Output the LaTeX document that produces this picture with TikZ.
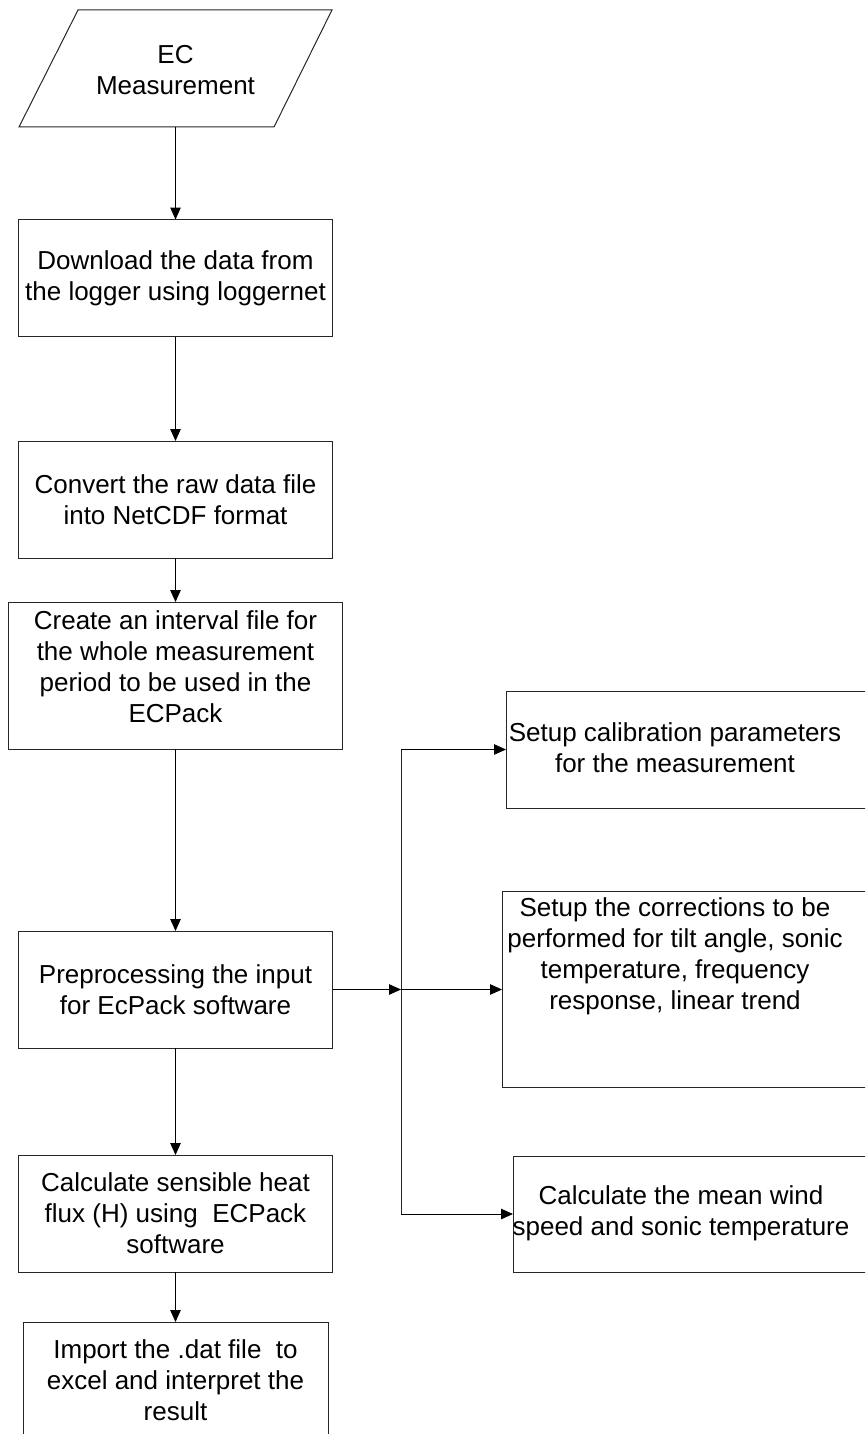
\documentclass[tikz,border=0pt]{standalone}
\usepackage{fontspec}
\setmainfont{Liberation Sans}
\usetikzlibrary{arrows.meta}
\begin{document}
\begin{tikzpicture}[x=1pt,y=-1pt,
  every node/.style={font=\fontsize{26pt}{31pt}\selectfont, align=center, inner sep=0pt, outer sep=0pt},
  stepbox/.style={draw=black!85, line width=1pt, rectangle},
  flow/.style={draw=black, line width=1pt, -{Triangle[length=12pt,width=10.5pt]}},
  wire/.style={draw=black!85, line width=1pt}]
\useasboundingbox (0,0) rectangle (865,1434);
\clip (0,0) rectangle (865,1434);

% input: parallelogram
\draw[wire] (78,10) -- (332,10) -- (274,127) -- (19,127) -- cycle;
\node (ec) at (175.5,70) {EC\\Measurement};
\coordinate (ecb) at (175.5,127);

% main column
\node[stepbox, minimum width=314pt, minimum height=117pt] (b1) at (175.5,278)
  {Download the data from\\the logger using loggernet};
\node[stepbox, minimum width=314pt, minimum height=117pt] (b2) at (175.5,499.5)
  {Convert the raw data file\\into NetCDF format};
\node[stepbox, minimum width=334pt, minimum height=147pt] (b3) at (175.5,675.5) {};
\node (b3t) at (175.5,667)
  {Create an interval file for\\the whole measurement\\period to be used in the\\ECPack};
\node[stepbox, minimum width=314pt, minimum height=117pt] (b4) at (175.5,989.5)
  {Preprocessing the input\\for EcPack software};
\node[stepbox, minimum width=314pt, minimum height=117pt] (b6) at (175.5,1213.5)
  {Calculate sensible heat\\flux (H) using~ ECPack\\software};
\node[stepbox, minimum width=305pt, minimum height=117pt] (b7) at (175.5,1380.5)
  {Import the .dat file~ to\\excel and interpret the\\result};

% side branch
\node[stepbox, minimum width=374pt, minimum height=117pt] (ra) at (693,749.5) {};
\node (rat) at (675,748) {Setup calibration parameters\\for the measurement};
\node[stepbox, minimum width=378pt, minimum height=196pt] (rb) at (691,989) {};
\node (rbt) at (675,956)
  {Setup the corrections to be\\performed for tilt angle, sonic\\temperature, frequency\\response, linear trend};
\node[stepbox, minimum width=367pt, minimum height=116pt] (rc) at (696.5,1214) {};
\node (rct) at (681,1213) {Calculate the mean wind\\speed and sonic temperature};

% connectors
\draw[flow] (ecb) -- (b1.north);
\draw[flow] (b1.south) -- (b2.north);
\draw[flow] (b2.south) -- (b3.north);
\draw[flow] (b3.south) -- (b4.north);
\draw[flow] (b4.south) -- (b6.north);
\draw[flow] (b6.south) -- (b7.north);

\coordinate (jm) at (401,989.5);
\coordinate (jt) at (401,749.5);
\coordinate (jb) at (401,1214);
\draw[flow] (b4.east) -- (jm);
\draw[wire] (jt) -- (jb);
\draw[flow] (jt) -- (ra.west);
\draw[flow] (jm) -- (rb.west |- jm);
\draw[flow] (jb) -- (rc.west);
\end{tikzpicture}
\end{document}
